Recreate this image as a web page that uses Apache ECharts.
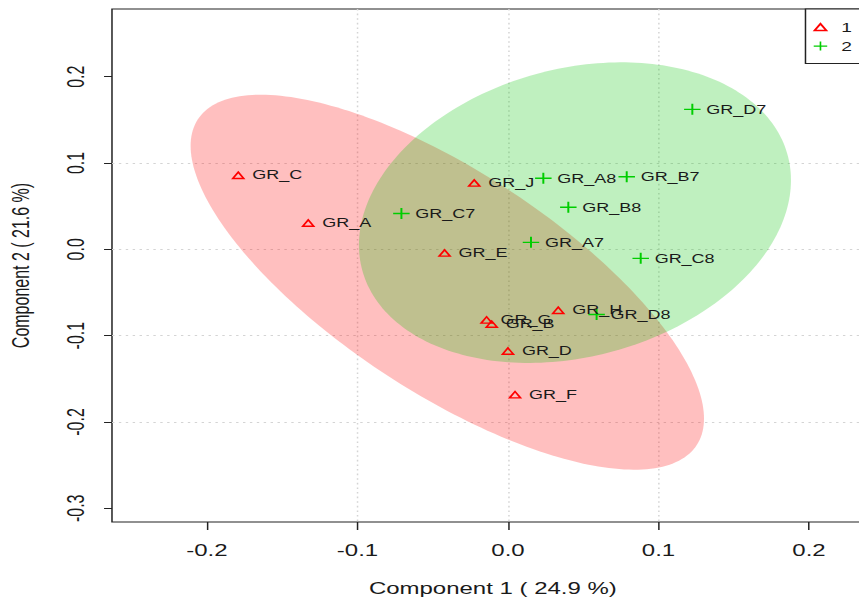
<!DOCTYPE html>
<html><head><meta charset="utf-8">
<script src="https://cdn.jsdelivr.net/npm/echarts@6/dist/echarts.min.js"></script>
<style>
html,body{margin:0;padding:0;background:#fff;overflow:hidden;width:859px;height:600px}
#main{width:573px;height:600px;transform:scaleX(1.49913);transform-origin:0 0;}
</style></head><body><div id="main"></div>
<script>
// ---- data ----
const group1Names = ['GR_C','GR_A','GR_J','GR_E','GR_G','GR_B','GR_H','GR_D','GR_F'];
const group1X = [-0.1792,-0.1327,-0.0224,-0.0421,-0.0142,-0.0108,0.0334,0.0000,0.0047];
const group1Y = [0.0861,0.0308,0.0772,-0.0039,-0.0814,-0.0863,-0.0703,-0.1175,-0.1680];
const group2Names = ['GR_D7','GR_A8','GR_B7','GR_C7','GR_B8','GR_A7','GR_C8','GR_D8'];
const group2X = [0.1225,0.0235,0.0789,-0.0708,0.0401,0.0153,0.0882,0.0589];
const group2Y = [0.1622,0.0823,0.0841,0.0415,0.0487,0.0081,-0.0104,-0.0755];
const groupNames = ['1','2'];
// confidence ellipses: centre and covariance-like spread (data units)
const ellipseCX = [-0.0403, 0.0445];
const ellipseCY = [-0.0381, 0.0425];
const ellipseVarX = [0.02909, 0.02060];
const ellipseVarY = [0.04718, 0.03032];
const ellipseCov = [-0.02694, 0.00539];
const xTicks = [-0.2,-0.1,0,0.1,0.2];
const yTicks = [-0.3,-0.2,-0.1,0,0.1,0.2];
const xRange = [-0.2631, 0.2430];
const yRange = [-0.3159, 0.2784];
const xTitle = 'Component 1 ( 24.9 %)';
const yTitle = 'Component 2 ( 21.6 %)';

// ---- styling ----
const RED = '#FF0000', GREEN = '#00CD00';
const fills = ['rgba(255,0,0,0.25)', 'rgba(0,196,0,0.25)'];
const TRI = 'path://M5,0L10,8.66L0,8.66Z M5,2.8L2.425,7.26L7.575,7.26Z';
const PLUS = 'path://M4.4,0H5.6V4.4H10V5.6H5.6V10H4.4V5.6H0V4.4H4.4Z';
const FONT = '"Liberation Sans", Arial, Helvetica, sans-serif';
const TXT = '#1a1a1a';
const GRIDLINE = {color: '#d4d4d4', type: [1.6, 3], width: 1};

const chart = echarts.init(document.getElementById('main'), null, {renderer: 'svg'});

function pts(names, xs, ys){ return names.map((n,i)=>({name:n, value:[xs[i], ys[i]]})); }
const ellipseData = ellipseCX.map((c,i)=>[c, ellipseCY[i], ellipseVarX[i], ellipseVarY[i], ellipseCov[i]]);

const fmt = v => Number(v).toFixed(1);

chart.setOption({
  animation: false,
  backgroundColor: '#fff',
  textStyle: {fontFamily: FONT},
  grid: {left: 74.7, right: -9.8, top: 9, bottom: 78, show: true, borderColor: '#222', borderWidth: 1,
         backgroundColor: 'transparent', containLabel: false, outerBoundsMode: 'none'},
  legend: {
    orient: 'vertical', left: 537.3, top: 9,
    data: [{name: groupNames[0], icon: TRI}, {name: groupNames[1], icon: PLUS}],
    itemWidth: 17.6, itemHeight: 9, itemGap: 6.3,
    padding: [11.3, 14, 10.8, 4.8],
    borderColor: '#222', borderWidth: 1, backgroundColor: '#fff', borderRadius: 0,
    textStyle: {fontSize: 12.8, color: TXT, fontFamily: FONT, lineHeight: 13},
    selectedMode: false, z: 10
  },
  xAxis: {
    type: 'value', min: xRange[0], max: xRange[1], splitNumber: 5,
    axisLine: {show: false, onZero: false},
    axisTick: {show: true, inside: false, length: 8, customValues: xTicks, lineStyle: {color: '#222', width: 1}},
    axisLabel: {show: true, customValues: xTicks, formatter: fmt, margin: 20, fontSize: 16, color: TXT, fontFamily: FONT},
    splitLine: {show: true, showMinLine: false, showMaxLine: false, lineStyle: GRIDLINE},
    name: xTitle, nameLocation: 'middle', nameGap: 58,
    nameTextStyle: {fontSize: 16, color: TXT, fontFamily: FONT}
  },
  yAxis: {
    type: 'value', min: yRange[0], max: yRange[1], splitNumber: 5,
    axisLine: {show: false, onZero: false},
    axisTick: {show: true, inside: false, length: 5.3, customValues: yTicks, lineStyle: {color: '#222', width: 1}},
    axisLabel: {show: true, customValues: yTicks, formatter: fmt, rotate: 90, margin: 16, fontSize: 16, color: TXT, fontFamily: FONT},
    splitLine: {show: true, showMinLine: false, showMaxLine: false, lineStyle: GRIDLINE},
    name: yTitle, nameLocation: 'middle', nameGap: 52.7,
    nameTextStyle: {fontSize: 16, color: TXT, fontFamily: FONT}
  },
  series: [
    {
      type: 'custom', name: 'ellipses', z: 1, silent: true,
      data: ellipseData, dimensions: ['cx','cy','vx','vy','cxy'], encode: {x: 0, y: 1},
      renderItem: function(params, api){
        const cx = api.value(0), cy = api.value(1), vx = api.value(2), vy = api.value(3), cxy = api.value(4);
        const l11 = Math.sqrt(vx), l21 = cxy / l11, l22 = Math.sqrt(vy - l21*l21);
        const p = [];
        for (let i = 0; i < 240; i++) {
          const t = i / 240 * 2 * Math.PI;
          p.push(api.coord([cx + l11*Math.cos(t), cy + l21*Math.cos(t) + l22*Math.sin(t)]));
        }
        return {type: 'polygon', shape: {points: p}, style: {fill: fills[params.dataIndex], stroke: null}};
      }
    },
    {
      type: 'scatter', name: groupNames[0], z: 3, symbol: TRI, symbolSize: [9.6, 8.3],
      itemStyle: {color: RED, opacity: 1},
      data: pts(group1Names, group1X, group1Y),
      label: {show: true, position: 'right', distance: 4.5, formatter: '{b}', fontSize: 12, color: TXT, fontFamily: FONT},
      emphasis: {disabled: true}
    },
    {
      type: 'scatter', name: groupNames[1], z: 3, symbol: PLUS, symbolSize: 11,
      itemStyle: {color: GREEN, opacity: 1},
      data: pts(group2Names, group2X, group2Y),
      label: {show: true, position: 'right', distance: 3.8, formatter: '{b}', fontSize: 12, color: TXT, fontFamily: FONT},
      emphasis: {disabled: true}
    }
  ]
});
</script></body></html>
